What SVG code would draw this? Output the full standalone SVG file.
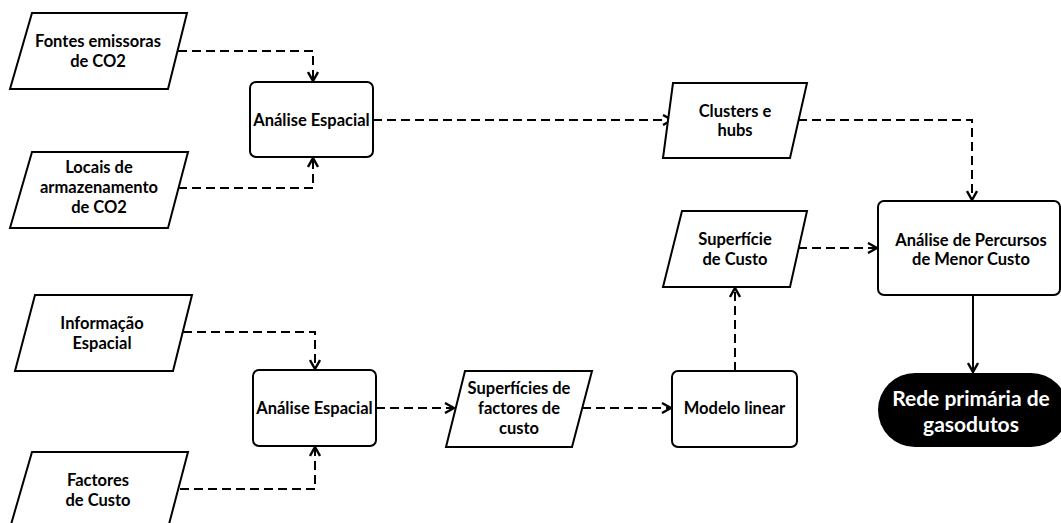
<svg xmlns="http://www.w3.org/2000/svg" width="1061" height="523" viewBox="0 0 1061 523">
<style>
.shape{fill:#fff;stroke:#000;stroke-width:2}
.t{font-family:Lato,"Liberation Sans",sans-serif;font-weight:bold;font-size:16.5px;fill:#000;text-anchor:middle}
.tw{font-family:Lato,"Liberation Sans",sans-serif;font-weight:bold;font-size:21px;fill:#fff;text-anchor:middle}
.d{fill:none;stroke:#000;stroke-width:2;stroke-dasharray:9,5}
.s{fill:none;stroke:#000;stroke-width:2}
</style>
<defs>
<marker id="arr" viewBox="0 0 12 12" refX="11" refY="6" markerWidth="12" markerHeight="12" markerUnits="userSpaceOnUse" orient="auto">
<path d="M2,1 L11,6 L2,11" fill="none" stroke="#000" stroke-width="2.4"/>
</marker>
</defs>
<rect width="1061" height="523" fill="#fff"/>
<g id="connectors">
<path class="d" d="M178,51 H313 V81" marker-end="url(#arr)"/>
<path class="d" d="M178,188 H313 V158" marker-end="url(#arr)"/>
<path class="d" d="M183,332 H315 V369" marker-end="url(#arr)"/>
<path class="d" d="M180,489 H315 V447" marker-end="url(#arr)"/>
<path class="d" d="M373,120 H672" marker-end="url(#arr)"/>
<path class="d" d="M376,408 H454" marker-end="url(#arr)"/>
<path class="d" d="M582,408 H671" marker-end="url(#arr)"/>
<path class="d" d="M735,371 V288" marker-end="url(#arr)"/>
<path class="d" d="M798,120 H972 V200" marker-end="url(#arr)"/>
<path class="d" d="M798,248 H877" marker-end="url(#arr)"/>
<path class="s" d="M973,295 V372" marker-end="url(#arr)"/>
</g>
<g id="fontes">
<polygon class="shape" points="32,13 187,13 168,89 10,89"/>
<text class="t" x="98" y="47">Fontes emissoras</text>
<text class="t" x="98" y="67">de CO2</text>
</g>
<g id="locais">
<polygon class="shape" points="32,152 188,152 168,228 10,228"/>
<text class="t" x="99" y="173">Locais de</text>
<text class="t" x="99" y="193">armazenamento</text>
<text class="t" x="99" y="213">de CO2</text>
</g>
<g id="analise1">
<rect class="shape" x="250" y="82" width="123" height="75" rx="6"/>
<text class="t" x="311.5" y="126">Análise Espacial</text>
</g>
<g id="informacao">
<polygon class="shape" points="35,295 192,295 173,371 15,371"/>
<text class="t" x="102" y="329">Informação</text>
<text class="t" x="102" y="349">Espacial</text>
</g>
<g id="factores">
<polygon class="shape" points="32,452 188,452 168,528 10,528"/>
<text class="t" x="98" y="486">Factores</text>
<text class="t" x="98" y="506">de Custo</text>
</g>
<g id="analise2">
<rect class="shape" x="253" y="370" width="123" height="76" rx="6"/>
<text class="t" x="314.5" y="414">Análise Espacial</text>
</g>
<g id="superficies">
<polygon class="shape" points="465,371 592,371 572,447 446,447"/>
<text class="t" x="519" y="394">Superfícies de</text>
<text class="t" x="519" y="414">factores de</text>
<text class="t" x="519" y="434">custo</text>
</g>
<g id="modelo">
<rect class="shape" x="672" y="371" width="125" height="76" rx="6"/>
<text class="t" x="734.5" y="414">Modelo linear</text>
</g>
<g id="clusters">
<polygon class="shape" points="673,83 807,83 790,158 663,158"/>
<text class="t" x="735" y="117">Clusters e</text>
<text class="t" x="735" y="136">hubs</text>
</g>
<g id="superficie">
<polygon class="shape" points="682,211 807,211 790,287 663,287"/>
<text class="t" x="735" y="245">Superfície</text>
<text class="t" x="735" y="265">de Custo</text>
</g>
<g id="percursos">
<rect class="shape" x="878" y="201" width="182" height="94" rx="6"/>
<text class="t" x="971" y="246">Análise de Percursos</text>
<text class="t" x="971" y="265">de Menor Custo</text>
</g>
<g id="rede">
<rect x="878" y="373" width="190" height="74" rx="37" fill="#000"/>
<text class="tw" x="971" y="406">Rede primária de</text>
<text class="tw" x="971" y="432">gasodutos</text>
</g>
</svg>
